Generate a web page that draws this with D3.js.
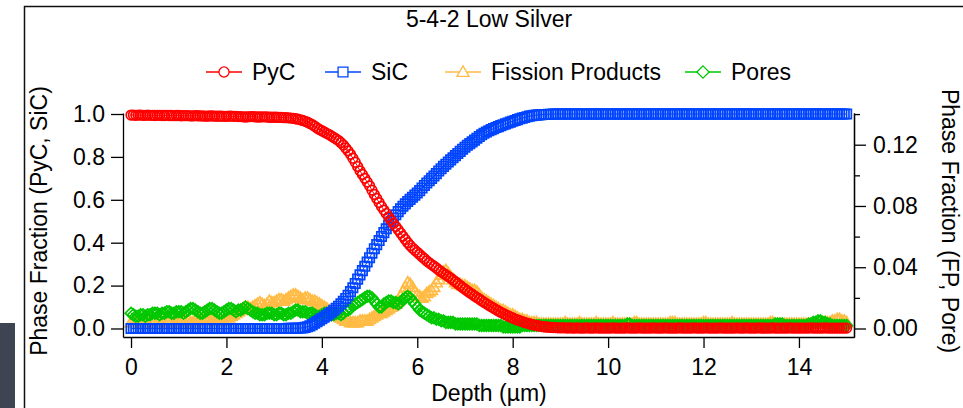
<!DOCTYPE html>
<html><head><meta charset="utf-8">
<script src="https://cdn.jsdelivr.net/npm/d3@7"></script>
<style>
html,body{margin:0;padding:0;background:#fff;}
svg{display:block;font-family:"Liberation Sans",Arial,Helvetica,sans-serif;}
</style></head><body>
<svg id="c" width="963" height="408"></svg>
<script>
// ---- data (depth grid: 0 to 15 µm, 0.05 µm step; one row per µm) ----
const depthStart = 0;
const depthStep = 0.05;

const pyc = [
0.995,0.995,0.994,0.995,0.995,0.994,0.994,0.995,0.994,0.994,0.993,0.994,0.994,0.993,0.993,0.994,0.993,0.993,0.992,0.993,
0.993,0.992,0.992,0.992,0.992,0.991,0.991,0.992,0.992,0.991,0.991,0.990,0.990,0.991,0.991,0.990,0.990,0.990,0.990,0.989,
0.989,0.990,0.990,0.989,0.989,0.988,0.988,0.987,0.986,0.987,0.988,0.988,0.987,0.986,0.986,0.987,0.987,0.986,0.985,0.985,
0.985,0.985,0.984,0.984,0.983,0.983,0.982,0.981,0.980,0.978,0.976,0.973,0.970,0.966,0.962,0.956,0.950,0.943,0.935,0.928,
0.922,0.916,0.910,0.904,0.898,0.891,0.884,0.876,0.866,0.855,0.842,0.828,0.812,0.794,0.775,0.755,0.735,0.718,0.700,0.683,
0.665,0.645,0.625,0.606,0.587,0.569,0.552,0.536,0.520,0.505,0.490,0.475,0.460,0.445,0.430,0.415,0.400,0.387,0.375,0.365,
0.355,0.345,0.335,0.325,0.315,0.306,0.298,0.290,0.282,0.273,0.265,0.257,0.250,0.242,0.235,0.226,0.218,0.209,0.200,0.191,
0.183,0.175,0.167,0.160,0.152,0.144,0.137,0.129,0.122,0.115,0.108,0.101,0.095,0.088,0.082,0.076,0.070,0.064,0.059,0.054,
0.049,0.044,0.040,0.036,0.032,0.028,0.025,0.022,0.019,0.016,0.014,0.012,0.010,0.008,0.007,0.006,0.005,0.004,0.004,0.003,
0.003,0.003,0.003,0.002,0.003,0.002,0.002,0.003,0.002,0.002,0.002,0.003,0.002,0.002,0.002,0.003,0.002,0.002,0.002,0.002,
0.002,0.002,0.003,0.002,0.002,0.002,0.002,0.002,0.003,0.002,0.002,0.002,0.002,0.003,0.002,0.002,0.002,0.002,0.002,0.003,
0.002,0.002,0.002,0.002,0.003,0.002,0.002,0.002,0.002,0.002,0.003,0.002,0.002,0.002,0.002,0.002,0.003,0.002,0.002,0.002,
0.002,0.003,0.002,0.002,0.002,0.002,0.002,0.003,0.002,0.002,0.002,0.002,0.002,0.002,0.003,0.002,0.002,0.002,0.003,0.002,
0.002,0.002,0.002,0.003,0.002,0.002,0.002,0.002,0.002,0.003,0.002,0.002,0.002,0.002,0.002,0.002,0.003,0.002,0.002,0.002,
0.002,0.002,0.002,0.002,0.002,0.003,0.002,0.002,0.002,0.002,0.002,0.003,0.002,0.002,0.002,0.002,0.002,0.002,0.002,0.002,
0.002];

const sic = [
0,0,0,0,0,0,0,0,0,0,0,0,0,0,0,0,0,0,0,0,
0,0,0,0,0,0,0,0,0,0,0,0,0,0,0,0,0,0,0,0,
0,0,0,0,0,0,0,0,0,0,0,0,0,0,0,0,0,0,0,0,
0,0,0,0,0,0,0.001,0.001,0.001,0.001,0.001,0.002,0.003,0.005,0.008,0.012,0.018,0.025,0.032,0.039,
0.046,0.053,0.060,0.068,0.076,0.085,0.094,0.104,0.115,0.127,0.140,0.155,0.172,0.190,0.210,0.230,0.250,0.270,0.290,0.310,
0.330,0.351,0.372,0.391,0.410,0.429,0.447,0.465,0.482,0.499,0.515,0.530,0.545,0.558,0.570,0.581,0.592,0.602,0.612,0.622,
0.632,0.643,0.655,0.667,0.678,0.689,0.700,0.711,0.722,0.734,0.745,0.756,0.766,0.776,0.786,0.796,0.806,0.816,0.826,0.836,
0.845,0.854,0.862,0.870,0.878,0.887,0.895,0.903,0.910,0.916,0.922,0.927,0.932,0.937,0.941,0.946,0.950,0.954,0.958,0.962,
0.966,0.970,0.974,0.978,0.981,0.984,0.987,0.990,0.992,0.994,0.995,0.996,0.997,0.998,0.998,0.999,0.999,1.000,1.000,1.000,
1.000,1.000,1.000,1.000,1.000,1.000,1.000,1.000,1.000,1.000,1.000,1.000,1.000,1.000,1.000,1.000,1.000,1.000,1.000,1.000,
1.000,1.000,1.000,1.000,1.000,1.000,1.000,1.000,1.000,1.000,1.000,1.000,1.000,1.000,1.000,1.000,1.000,1.000,1.000,1.000,
1.000,1.000,1.000,1.000,1.000,1.000,1.000,1.000,1.000,1.000,1.000,1.000,1.000,1.000,1.000,1.000,1.000,1.000,1.000,1.000,
1.000,1.000,1.000,1.000,1.000,1.000,1.000,1.000,1.000,1.000,1.000,1.000,1.000,1.000,1.000,1.000,1.000,1.000,1.000,1.000,
1.000,1.000,1.000,1.000,1.000,1.000,1.000,1.000,1.000,1.000,1.000,1.000,1.000,1.000,1.000,1.000,1.000,1.000,1.000,1.000,
1.000,1.000,1.000,1.000,1.000,1.000,1.000,1.000,1.000,1.000,1.000,1.000,1.000,1.000,1.000,1.000,1.000,1.000,1.000,1.000,
1.000];

const fissionProducts = [
0.004,0.004,0.004,0.005,0.005,0.004,0.004,0.004,0.004,0.005,0.005,0.004,0.004,0.004,0.004,0.005,0.005,0.004,0.004,0.004,
0.004,0.005,0.005,0.005,0.005,0.004,0.004,0.005,0.005,0.006,0.006,0.007,0.007,0.006,0.006,0.005,0.005,0.005,0.005,0.005,
0.006,0.007,0.008,0.009,0.010,0.011,0.012,0.013,0.014,0.014,0.013,0.014,0.015,0.016,0.017,0.016,0.015,0.016,0.018,0.017,
0.017,0.018,0.019,0.019,0.018,0.019,0.020,0.021,0.022,0.022,0.021,0.020,0.019,0.020,0.020,0.019,0.018,0.018,0.017,0.016,
0.015,0.014,0.013,0.012,0.011,0.010,0.009,0.008,0.007,0.006,0.005,0.005,0.004,0.004,0.004,0.004,0.005,0.005,0.005,0.005,
0.006,0.007,0.008,0.009,0.010,0.010,0.011,0.012,0.013,0.014,0.015,0.016,0.018,0.021,0.024,0.027,0.030,0.029,0.027,0.024,
0.022,0.021,0.020,0.021,0.023,0.024,0.025,0.027,0.030,0.032,0.035,0.037,0.038,0.036,0.034,0.032,0.030,0.029,0.029,0.028,
0.028,0.027,0.026,0.025,0.025,0.024,0.022,0.020,0.019,0.018,0.017,0.016,0.015,0.014,0.013,0.012,0.012,0.011,0.010,0.009,
0.009,0.008,0.007,0.006,0.006,0.005,0.005,0.004,0.004,0.004,0.004,0.003,0.003,0.003,0.003,0.003,0.003,0.003,0.003,0.003,
0.003,0.003,0.004,0.003,0.003,0.003,0.003,0.003,0.004,0.003,0.003,0.003,0.003,0.003,0.003,0.004,0.003,0.003,0.003,0.003,
0.003,0.003,0.004,0.003,0.003,0.003,0.003,0.003,0.003,0.003,0.003,0.004,0.004,0.003,0.003,0.003,0.003,0.003,0.003,0.003,
0.003,0.003,0.003,0.003,0.003,0.003,0.004,0.004,0.004,0.003,0.003,0.003,0.003,0.003,0.003,0.003,0.003,0.003,0.003,0.003,
0.004,0.004,0.003,0.003,0.003,0.003,0.003,0.003,0.003,0.003,0.003,0.003,0.004,0.003,0.003,0.003,0.003,0.003,0.003,0.003,
0.003,0.003,0.003,0.003,0.003,0.003,0.003,0.003,0.004,0.004,0.003,0.003,0.003,0.003,0.003,0.003,0.003,0.003,0.003,0.003,
0.003,0.003,0.003,0.003,0.003,0.003,0.003,0.003,0.003,0.003,0.004,0.004,0.004,0.004,0.005,0.005,0.006,0.006,0.005,0.005,
0.004];

const pores = [
0.010,0.009,0.008,0.008,0.009,0.009,0.008,0.009,0.009,0.010,0.010,0.010,0.009,0.010,0.010,0.011,0.011,0.010,0.010,0.011,
0.011,0.011,0.010,0.011,0.012,0.013,0.013,0.012,0.011,0.010,0.010,0.011,0.012,0.013,0.013,0.012,0.011,0.010,0.010,0.011,
0.012,0.013,0.013,0.012,0.011,0.012,0.012,0.013,0.014,0.013,0.012,0.011,0.010,0.010,0.009,0.009,0.009,0.010,0.010,0.010,
0.009,0.009,0.010,0.010,0.009,0.009,0.010,0.010,0.011,0.012,0.012,0.011,0.011,0.011,0.010,0.010,0.010,0.009,0.008,0.008,
0.009,0.010,0.010,0.010,0.009,0.009,0.010,0.010,0.009,0.010,0.012,0.012,0.013,0.015,0.016,0.017,0.018,0.019,0.020,0.021,
0.021,0.020,0.018,0.016,0.014,0.014,0.016,0.017,0.018,0.018,0.017,0.017,0.016,0.017,0.019,0.020,0.021,0.020,0.018,0.016,
0.014,0.012,0.011,0.010,0.009,0.008,0.007,0.007,0.006,0.006,0.005,0.005,0.004,0.004,0.004,0.004,0.003,0.003,0.003,0.003,
0.003,0.003,0.003,0.003,0.003,0.003,0.002,0.002,0.002,0.002,0.002,0.002,0.002,0.002,0.002,0.002,0.001,0.001,0.001,0.001,
0.001,0.001,0.001,0.001,0.002,0.002,0.002,0.002,0.002,0.002,0.002,0.002,0.002,0.002,0.002,0.002,0.002,0.002,0.002,0.002,
0.002,0.002,0.002,0.002,0.002,0.002,0.002,0.002,0.002,0.002,0.002,0.002,0.002,0.002,0.002,0.002,0.002,0.002,0.002,0.002,
0.002,0.002,0.002,0.002,0.002,0.002,0.002,0.002,0.003,0.003,0.002,0.002,0.002,0.002,0.002,0.002,0.002,0.002,0.002,0.002,
0.002,0.002,0.002,0.002,0.002,0.002,0.002,0.002,0.002,0.002,0.002,0.002,0.002,0.002,0.002,0.002,0.002,0.002,0.002,0.002,
0.002,0.002,0.002,0.002,0.002,0.002,0.002,0.002,0.002,0.002,0.002,0.002,0.002,0.002,0.002,0.002,0.002,0.002,0.002,0.002,
0.002,0.002,0.002,0.002,0.002,0.002,0.002,0.002,0.002,0.002,0.003,0.003,0.003,0.003,0.002,0.002,0.002,0.002,0.002,0.002,
0.002,0.002,0.002,0.002,0.003,0.003,0.004,0.004,0.005,0.005,0.004,0.004,0.003,0.003,0.002,0.002,0.002,0.002,0.002,0.002,
0.002];

const xTicks = [0, 2, 4, 6, 8, 10, 12, 14];
const yLeftTicks = [0, 0.2, 0.4, 0.6, 0.8, 1.0];
const yRightMajorTicks = [0, 0.04, 0.08, 0.12];
const yRightMinorTicks = [0.02, 0.06, 0.10, 0.14];
const seriesNames = ["PyC", "SiC", "Fission Products", "Pores"];
const titleText = "5-4-2 Low Silver";
const xLabel = "Depth (µm)";
const yLeftLabel = "Phase Fraction (PyC, SiC)";
const yRightLabel = "Phase Fraction (FP, Pore)";

// ---- layout ----
const svg = d3.select("#c");
const FONT = 23;
const L = 123, R = 854, T = 113, B = 337;

const x = d3.scaleLinear().domain([-0.168, 15.154]).range([L, R]);
const yL = d3.scaleLinear().domain([-0.0397, 1.0047]).range([B, T]);
const yR = d3.scaleLinear().domain([-0.00555, 0.1407]).range([B, T]);

// background decorations
svg.append("rect").attr("x", 0).attr("y", 323).attr("width", 15).attr("height", 85).attr("fill", "#3e4451");
svg.append("path").attr("d", "M24.5,408V6.5H963").attr("fill", "none").attr("stroke", "#111").attr("stroke-width", 1.5);

// marker shapes (plot)
const shapes = {
  circle: (cx, cy, k=1) => { const r = 4.8*k; return `M${cx+r},${cy}A${r},${r} 0 1,1 ${cx-r},${cy}A${r},${r} 0 1,1 ${cx+r},${cy}Z`; },
  square: (cx, cy, k=1) => { const h = 4.7*k; return `M${cx-h},${cy-h}h${2*h}v${2*h}h${-2*h}Z`; },
  triangle: (cx, cy, k=1) => `M${cx},${cy-5.8*k}L${cx+5.8*k},${cy+4.2*k}L${cx-5.8*k},${cy+4.2*k}Z`,
  diamond: (cx, cy, k=1) => `M${cx},${cy-5.8*k}L${cx+5.8*k},${cy}L${cx},${cy+5.8*k}L${cx-5.8*k},${cy}Z`
};

const series = [
  {name: seriesNames[2], values: fissionProducts, scale: yR, color: "#ffbb44", shape: "triangle"},
  {name: seriesNames[3], values: pores, scale: yR, color: "#00c800", shape: "diamond"},
  {name: seriesNames[1], values: sic, scale: yL, color: "#0044ff", shape: "square"},
  {name: seriesNames[0], values: pyc, scale: yL, color: "#ff0000", shape: "circle"}
];

const plot = svg.append("g");
series.forEach(s => {
  const pts = s.values.map((v, i) => [depthStart + i * depthStep, v]);
  const line = d3.line().x(d => x(d[0])).y(d => s.scale(d[1]));
  plot.append("path").attr("d", line(pts)).attr("fill", "none").attr("stroke", s.color).attr("stroke-width", 1);
  plot.append("g").selectAll("path").data(pts).join("path")
    .attr("d", d => shapes[s.shape](x(d[0]), s.scale(d[1])))
    .attr("fill", "none").attr("stroke", s.color).attr("stroke-width", 1.7);
});

// axes
function styleAxis(g) {
  g.selectAll("path.domain").attr("stroke", "#000").attr("stroke-width", 1.3);
  g.selectAll(".tick line").attr("stroke", "#000").attr("stroke-width", 1.3);
  g.selectAll("text").attr("font-size", FONT).attr("font-family", "Liberation Sans, Arial, sans-serif").attr("fill", "#000");
}
svg.append("g").attr("transform", `translate(${L},0)`)
  .call(d3.axisLeft(yL).tickValues(yLeftTicks).tickFormat(d3.format(".1f")).tickSize(12).tickSizeOuter(0).tickPadding(6))
  .call(styleAxis);
svg.append("g").attr("transform", `translate(0,${B})`)
  .call(d3.axisBottom(x).tickValues(xTicks).tickFormat(d3.format("d")).tickSize(11).tickSizeOuter(0).tickPadding(11))
  .call(styleAxis);
svg.append("g").attr("transform", `translate(${R},0)`)
  .call(d3.axisRight(yR).tickValues(yRightMajorTicks).tickFormat(d3.format(".2f")).tickSize(12).tickSizeOuter(0).tickPadding(7))
  .call(styleAxis);
svg.append("g").attr("transform", `translate(${R},0)`)
  .call(d3.axisRight(yR).tickValues(yRightMinorTicks).tickFormat("").tickSize(6).tickSizeOuter(0))
  .call(styleAxis);

// title and labels
svg.append("text").attr("x", 489).attr("y", 27).attr("text-anchor", "middle").attr("font-size", FONT).text(titleText);
svg.append("text").attr("x", 489).attr("y", 401).attr("text-anchor", "middle").attr("font-size", FONT).text(xLabel);
svg.append("text").attr("transform", `translate(47,221) rotate(-90)`).attr("text-anchor", "middle").attr("font-size", FONT).text(yLeftLabel);
svg.append("text").attr("transform", `translate(942,221) rotate(90)`).attr("text-anchor", "middle").attr("font-size", FONT).text(yRightLabel);

// legend
const legendItems = [
  {s: series[3], x1: 206},
  {s: series[2], x1: 325},
  {s: series[0], x1: 445},
  {s: series[1], x1: 685}
];
const ly = 72;
legendItems.forEach(it => {
  const g = svg.append("g");
  g.append("line").attr("x1", it.x1).attr("x2", it.x1 + 36).attr("y1", ly).attr("y2", ly).attr("stroke", it.s.color).attr("stroke-width", 1.3);
  g.append("path").attr("d", shapes[it.s.shape](it.x1 + 18, ly, 1.05)).attr("fill", "#fff").attr("stroke", it.s.color).attr("stroke-width", 1.3);
  g.append("text").attr("x", it.x1 + 46).attr("y", ly + 8).attr("font-size", FONT).text(it.s.name);
});
</script>
</body></html>
